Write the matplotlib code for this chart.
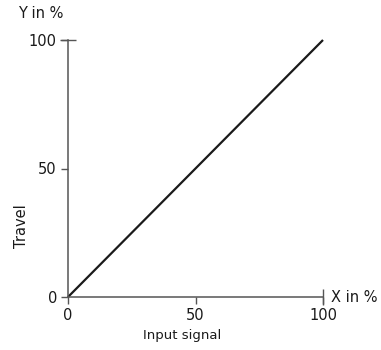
import matplotlib
matplotlib.use("Agg")
import matplotlib.pyplot as plt

# characteristic: travel vs input signal (linear)
input_signal = [0, 100]
travel = [0, 100]
ticks = [0, 50, 100]

axis_col = "#555555"

fig = plt.figure(figsize=(3.81, 3.5), dpi=100)
ax = fig.add_axes([68 / 381, 53 / 350, 255 / 381, 257 / 350])

ax.plot(input_signal, travel, color="#1a1a1a", lw=1.6, solid_capstyle="butt", clip_on=False)

ax.set_xlim(0, 100)
ax.set_ylim(0, 100)
ax.set_xticks(ticks)
ax.set_yticks(ticks)

for s in ["top", "right"]:
    ax.spines[s].set_visible(False)
for s in ["left", "bottom"]:
    ax.spines[s].set_color(axis_col)
    ax.spines[s].set_linewidth(1.1)

ax.tick_params(direction="out", length=5, width=1.0, color=axis_col,
               labelsize=10.5, labelcolor="#1a1a1a", pad=3)

# end caps on the axes
ax.plot([0], [100], marker="_", ms=11, mew=1.0, color=axis_col, clip_on=False)
ax.plot([100], [0], marker="|", ms=11, mew=1.0, color=axis_col, clip_on=False)

ax.text(-0.196, 1.105, "Y in %", transform=ax.transAxes, fontsize=10.5, color="#1a1a1a",
        ha="left", va="center")
ax.text(1.03, 0.0, "X in %", transform=ax.transAxes, fontsize=10.5, color="#1a1a1a",
        ha="left", va="center")
ax.set_xlabel("Input signal", fontsize=9.5, color="#1a1a1a", va="top")
ax.xaxis.set_label_coords(0.447, -0.126)
ax.set_ylabel("Travel", fontsize=10.5, color="#1a1a1a")
ax.yaxis.set_label_coords(-0.154, 0.276)

fig.savefig("out.png", dpi=100)
